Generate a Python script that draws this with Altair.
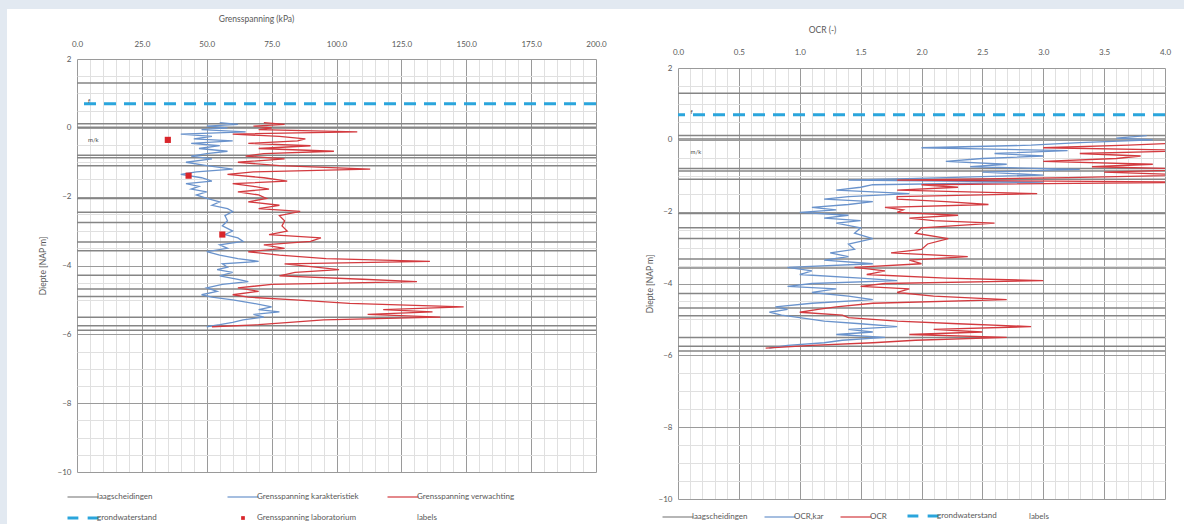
import altair as alt
import pandas as pd

FONT = "Lato"
TXT = "#595959"
MAJ = "#9a9a9a"
MIN = "#e0e0e0"
BAND = "#e2e9f1"

# ---------------- data ----------------
laag_diepte = [1.3, 0.12, 0.02, -0.8, -0.87, -1.1, -2.05, -2.45, -2.75, -3.32,
               -3.57, -4.28, -4.68, -4.9, -5.5, -5.75, -5.88]
grondwaterstand = [0.7]

gs_diepte = [0.15, 0.10, 0.05, 0.0, -0.05, -0.12, -0.18, -0.25, -0.32, -0.38,
             -0.45, -0.52, -0.6, -0.68, -0.75, -0.82, -0.9, -1.0, -1.1, -1.2,
             -1.28, -1.35, -1.45, -1.55, -1.62, -1.7, -1.78, -1.86, -1.95, -2.05,
             -2.15, -2.25, -2.35, -2.43, -2.55, -2.7, -2.85, -3.0, -3.1, -3.2,
             -3.3, -3.4, -3.5, -3.6, -3.7, -3.8, -3.88, -3.95, -4.05, -4.12,
             -4.2, -4.3, -4.4, -4.47, -4.55, -4.65, -4.75, -4.85, -4.92, -5.0,
             -5.1, -5.2, -5.28, -5.35, -5.42, -5.5, -5.58, -5.65, -5.72, -5.78]
gs_kar = [55, 62, 50, 58, 48, 65, 40, 52, 45, 60,
          44, 55, 47, 58, 50, 44, 52, 42, 50, 60,
          46, 40, 48, 52, 42, 47, 44, 50, 46, 50,
          55, 52, 58, 60, 57, 58, 56, 60, 57, 62,
          64, 55, 58, 50, 55, 62, 70, 56, 58, 54,
          60, 55, 62, 66, 56, 50, 54, 48, 52, 60,
          68, 75, 70, 78, 68, 72, 64, 60, 55, 50]
gs_verw = [72, 80, 68, 75, 70, 108, 60, 78, 88, 85,
           66, 90, 70, 99, 72, 65, 80, 62, 78, 113,
           68, 58, 72, 81, 60, 68, 74, 62, 70, 73,
           66, 78, 70, 86, 78, 80, 79, 81, 74, 94,
           90, 72, 80, 66, 78, 96, 136, 80, 92, 101,
           84, 78, 110, 131, 75, 62, 70, 60, 66, 84,
           105, 149, 118, 137, 112, 140, 95, 82, 70, 52]
lab_diepte = [-0.35, -1.39, -3.1]
lab_waarde = [35, 43, 56]

ocr_diepte = [0.12, 0.05, 0.0, -0.08, -0.15, -0.22, -0.3, -0.38, -0.45, -0.52,
              -0.6, -0.68, -0.75, -0.82, -0.9, -0.98, -1.05, -1.12, -1.18, -1.25,
              -1.32, -1.4, -1.5, -1.58, -1.65, -1.72, -1.8, -1.88, -1.95, -2.02,
              -2.1, -2.18, -2.25, -2.32, -2.45, -2.6, -2.75, -2.9, -3.05, -3.15,
              -3.25, -3.35, -3.45, -3.55, -3.65, -3.75, -3.85, -3.92, -4.0, -4.08,
              -4.15, -4.25, -4.35, -4.45, -4.55, -4.65, -4.72, -4.8, -4.88, -4.95,
              -5.05, -5.12, -5.2, -5.28, -5.35, -5.42, -5.5, -5.58, -5.65, -5.72, -5.8]
ocr_kar = [3.85, 3.6, 3.9, 3.3, 2.9, 2.0, 3.2, 2.6, 3.0, 2.5,
           2.2, 2.7, 2.4, 3.3, 2.5, 3.0, 2.2, 1.4, 3.0, 1.6,
           1.5, 1.3, 1.9, 1.4, 1.2, 1.6, 1.4, 1.1, 1.3, 1.0,
           1.4, 1.2, 1.5, 1.3, 1.5, 1.45, 1.6, 1.4, 1.45, 1.25,
           1.4, 1.2, 1.6, 0.9, 1.1, 1.0, 1.5, 1.8, 1.1, 0.9,
           1.3, 1.1, 1.4, 1.6, 1.1, 0.8, 0.9, 0.75, 0.85, 1.0,
           1.2, 1.5, 1.8, 1.4, 1.6, 1.3, 1.7, 1.35, 1.2, 0.9, 0.75]
ocr = [4.6, 4.5, 4.4, 4.2, 3.7, 3.0, 4.3, 3.3, 3.8, 3.6,
       3.0, 3.9, 3.4, 4.3, 3.5, 4.2, 3.2, 1.8, 4.5, 2.0,
       2.3, 1.8, 2.95, 1.8, 1.8, 2.2, 2.55, 1.7, 1.85, 1.8,
       2.3, 1.9, 2.1, 2.6, 2.0, 1.95, 2.22, 2.05, 2.0, 1.75,
       2.38, 1.9, 2.0, 1.45, 1.7, 1.55, 2.2, 3.0, 1.7, 1.5,
       1.9, 1.8, 2.1, 2.7, 1.6, 1.3, 1.15, 1.0, 1.35, 1.4,
       1.8, 2.3, 2.9, 2.1, 2.5, 1.9, 2.7, 1.95, 1.6, 1.1, 0.72]

label_tekst = ["f", "m/k"]
label_diepte = [0.78, -0.35]
label_x1 = [5, 5]
label_x2 = [0.12, 0.12]

names1 = ["laagscheidingen", "Grensspanning karakteristiek", "Grensspanning verwachting",
          "grondwaterstand", "Grensspanning laboratorium", "labels"]
colors1 = ["#858585", "#6a93cc", "#d33a3f", "#2aa5dc", "#d9262b", "#404040"]
names2 = ["laagscheidingen", "OCR,kar", "OCR", "grondwaterstand", "labels"]
colors2 = ["#858585", "#6a93cc", "#d33a3f", "#2aa5dc", "#404040"]

x1_vals = [i * 5 for i in range(41)]
x2_vals = [round(i * 0.1, 1) for i in range(41)]
y_vals = [2 - 0.5 * i for i in range(25)]


# ---------------- helpers ----------------
def ternary(names, vals, default, quote=True):
    q = "'" if quote else ""
    expr = f"{q}{default}{q}"
    for n, v in reversed(list(zip(names, vals))):
        expr = f"datum.value==='{n}' ? {q}{v}{q} : " + expr
    return expr


def legend(names, colors, x, y, columns, colpad, rowpad):
    shapes, fills, widths = [], [], []
    for n, c in zip(names, colors):
        if n == "grondwaterstand":
            shapes.append("M-1,0H-0.3M0.3,0H1"); fills.append("transparent"); widths.append(3)
        elif n == "Grensspanning laboratorium":
            shapes.append("M-0.12,-0.12H0.12V0.12H-0.12Z"); fills.append(c); widths.append(0)
        elif n == "labels":
            shapes.append("M0,0Z"); fills.append("transparent"); widths.append(0)
        else:
            shapes.append("M-1,0H1"); fills.append("transparent"); widths.append(1.2)
    kw = dict(orient="none", legendX=x, legendY=y, direction="horizontal", title=None,
              symbolSize=960, labelFontSize=8, labelColor=TXT, labelFont=FONT,
              columnPadding=colpad, rowPadding=rowpad, labelOffset=10,
              values=names, symbolLimit=0,
              symbolType=alt.ExprRef(expr=ternary(names, shapes, "M-1,0H1")),
              symbolStrokeColor=alt.ExprRef(expr=ternary(names, colors, "#888")),
              symbolFillColor=alt.ExprRef(expr=ternary(names, fills, "transparent")),
              symbolStrokeWidth=alt.ExprRef(expr=ternary(names, widths, 1, quote=False)),
              symbolOpacity=1)
    if columns:
        kw["columns"] = columns
        kw["gridAlign"] = "all"
    return alt.Legend(**kw)


def xaxis(title, vals, major, fmt, title_x, label_pad, title_pad, grid=True, labels=True):
    kw = dict(orient="top", values=vals, grid=grid, ticks=False,
              domain=False, labelOverlap=False, labelFlush=False,
              gridColor={"condition": {"test": major, "value": MAJ}, "value": MIN})
    if labels:
        kw.update(title=title,
                  labelExpr=f"({major}) ? format(datum.value, '{fmt}') : ''",
                  labelFont=FONT, labelFontSize=8, labelColor=TXT, labelPadding=label_pad,
                  titleFont=FONT, titleFontSize=8.5, titleColor=TXT, titleFontWeight="normal",
                  titlePadding=title_pad, titleX=title_x)
    else:
        kw.update(title=None, labels=False)
    return alt.Axis(**kw)


def yaxis(title_pad):
    major = "datum.value % 2 === 0"
    return alt.Axis(title="Diepte [NAP m]", values=y_vals, grid=True, ticks=False,
                    domain=False, labelOverlap=False, labelFlush=False,
                    gridColor={"condition": {"test": major, "value": MAJ}, "value": MIN},
                    labelExpr=f"({major}) ? format(datum.value, 'd') : ''",
                    labelFont=FONT, labelFontSize=8, labelColor=TXT, labelPadding=6,
                    titleFont=FONT, titleFontSize=8.5, titleColor=TXT, titleFontWeight="normal",
                    titlePadding=title_pad)


def panel(field, xdom, xax, yax, names, colors, leg, lines, labels, width, height, lab=None):
    cscale = alt.Scale(domain=names, range=colors)
    col = alt.Color(f"{field}:N", scale=cscale, legend=leg)
    ysc = alt.Scale(domain=[-10, 2], nice=False, zero=False)
    xsc = alt.Scale(domain=xdom, nice=False, zero=False)
    X = alt.X("w:Q", scale=xsc, axis=xax)
    Y = alt.Y("diepte:Q", scale=ysc, axis=yax)

    laag_df = pd.DataFrame({"diepte": laag_diepte, field: names[0]})
    laag = alt.Chart(laag_df).mark_rule(strokeWidth=1.5).encode(y=Y, color=col)
    gw = alt.Chart(pd.DataFrame({"diepte": grondwaterstand, field: "grondwaterstand"})).mark_rule(
        strokeWidth=3, strokeDash=[12, 8]).encode(y=Y, color=col)
    layers = [laag, gw]
    for nm, d, v in lines:
        df = pd.DataFrame({"diepte": d, "w": v, field: nm, "idx": list(range(len(d)))})
        layers.append(alt.Chart(df).mark_line(strokeWidth=1.3, clip=True).encode(
            x=X, y=Y, order="idx:Q", color=col))
    if lab is not None:
        layers.append(alt.Chart(lab).mark_square(size=38, opacity=1).encode(
            x=X, y=Y, color=col))
    layers.append(alt.Chart(labels).mark_text(align="left", baseline="middle", fontSize=6,
                                              font=FONT, dx=-2).encode(
        x=X, y=Y, text="tekst:N", color=col))
    return alt.layer(*layers).properties(width=width, height=height)


lab_df = pd.DataFrame({"diepte": lab_diepte, "w": lab_waarde, "serie1": "Grensspanning laboratorium"})
lbl1 = pd.DataFrame({"tekst": label_tekst, "diepte": label_diepte, "w": label_x1, "serie1": "labels"})
lbl2 = pd.DataFrame({"tekst": label_tekst, "diepte": label_diepte, "w": label_x2, "serie2": "labels"})

ax1 = xaxis("Grensspanning (kPa)", x1_vals, "datum.value % 25 === 0", ".1f", 179, 11, 17)
ax2_major = "round(datum.value*10) % 5 === 0"
ax2_grid = xaxis(None, x2_vals, ax2_major, ".1f", 0, 0, 0, labels=False)
ax2_top = xaxis("OCR (-)", x2_vals, ax2_major, ".1f", 144, 3, 14, grid=False)

p1 = panel("serie1", [0, 200], ax1, yaxis(10), names1, colors1,
           legend(names1, colors1, 2, 433, 3, 26, 10),
           [("Grensspanning karakteristiek", gs_diepte, gs_kar),
            ("Grensspanning verwachting", gs_diepte, gs_verw)],
           lbl1, 519, 413, lab=lab_df)
p2 = panel("serie2", [0, 4], ax2_grid, yaxis(4), names2, colors2,
           legend(names2, colors2, -4, 453, None, 14, 0),
           [("OCR,kar", ocr_diepte, ocr_kar), ("OCR", ocr_diepte, ocr)],
           lbl2, 487, 431)
# top axis of the OCR panel, carried by a thin strip above the plot
p2_axis = alt.Chart(lbl2).mark_point(opacity=0, clip=True).encode(
    x=alt.X("w:Q", scale=alt.Scale(domain=[0, 4], nice=False, zero=False), axis=ax2_top)
).properties(width=487, height=5)

# white page panel behind both charts (the light band shows at top and left)
page = alt.Chart(alt.Data(values=[{"page": 1}])).mark_rect(color="white").encode(
    x=alt.value(0), x2=alt.value(1177), y=alt.value(-50), y2=alt.value(465)
).properties(width=1, height=1)

inner = alt.hconcat(p1, alt.vconcat(p2_axis, p2, spacing=0), spacing=82,
                    bounds="flush").resolve_scale(color="independent")
chart = alt.hconcat(page, inner, spacing=69, bounds="flush").resolve_scale(
    color="independent").properties(
    padding={"left": 7, "top": 9, "right": 0, "bottom": 0}, background=BAND
).configure_view(stroke=None)

chart.save("out.html", embed_options={"renderer": "svg", "actions": False})
